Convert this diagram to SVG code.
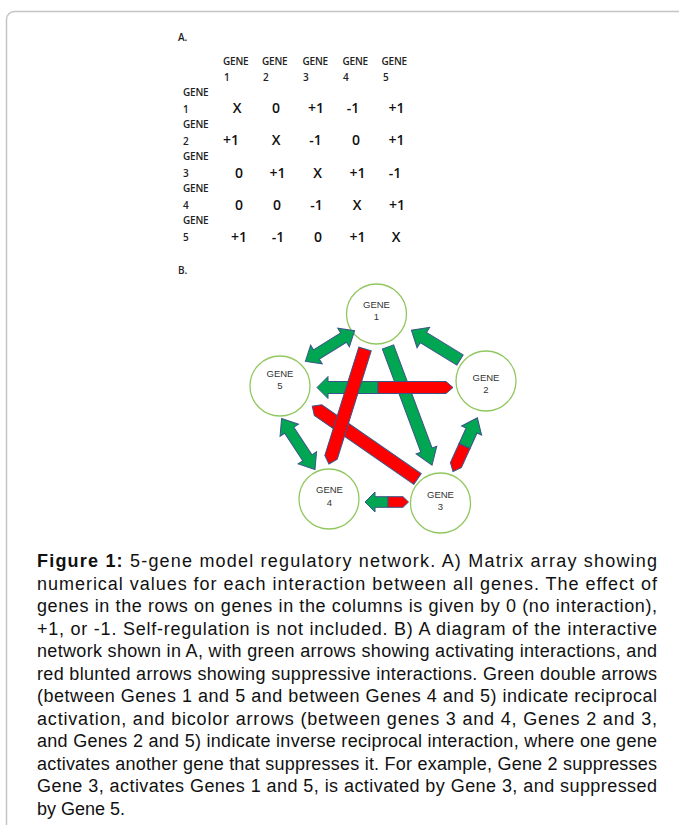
<svg xmlns="http://www.w3.org/2000/svg" width="679" height="825" viewBox="0 0 679 825">
<style>
.frame{fill:#fff;stroke:#c4c4c4;stroke-width:1.5}
.hd{font-family:"Open Sans","Liberation Sans",sans-serif;font-size:10px;font-weight:600;fill:#222;letter-spacing:-0.2px}
.v{font-family:"Open Sans","Liberation Sans",sans-serif;font-size:14px;font-weight:600;fill:#111;text-anchor:middle}
.nd{fill:#fff;stroke:#92C760;stroke-width:1.3}
.nt{font-family:"Liberation Sans",Arial,sans-serif;font-size:9.5px;fill:#333;text-anchor:middle}
.g{fill:#00A651;stroke:#3A5488;stroke-width:1}
.r{fill:#FF0000;stroke:#3A5488;stroke-width:1}
.cap{font-family:"Liberation Sans",Arial,sans-serif;font-size:18px;fill:#111}
</style>
<rect class="frame" x="6.5" y="11.5" width="720" height="900" rx="8"/>
<g id="matrix">
<text class="hd" x="178" y="41">A.</text>
<text class="hd" x="223" y="65">GENE</text><text class="hd" x="262" y="65">GENE</text><text class="hd" x="302.5" y="65">GENE</text><text class="hd" x="342.5" y="65">GENE</text><text class="hd" x="381.5" y="65">GENE</text>
<text class="hd" x="224" y="81">1</text><text class="hd" x="263" y="81">2</text><text class="hd" x="303" y="81">3</text><text class="hd" x="343" y="81">4</text><text class="hd" x="383" y="81">5</text>
<text class="hd" x="183" y="96">GENE</text><text class="hd" x="183" y="113">1</text>
<text class="hd" x="183" y="128">GENE</text><text class="hd" x="183" y="145">2</text>
<text class="hd" x="183" y="160">GENE</text><text class="hd" x="183" y="177">3</text>
<text class="hd" x="183" y="192">GENE</text><text class="hd" x="183" y="209">4</text>
<text class="hd" x="183" y="224">GENE</text><text class="hd" x="183" y="241">5</text>
<text class="v" x="237" y="113">X</text><text class="v" x="276" y="113">0</text><text class="v" x="316" y="113">+1</text><text class="v" x="353" y="113">-1</text><text class="v" x="396.5" y="113">+1</text>
<text class="v" x="231" y="145">+1</text><text class="v" x="276" y="145">X</text><text class="v" x="315.5" y="145">-1</text><text class="v" x="356" y="145">0</text><text class="v" x="396.5" y="145">+1</text>
<text class="v" x="239" y="178">0</text><text class="v" x="277.5" y="178">+1</text><text class="v" x="317.5" y="178">X</text><text class="v" x="357.5" y="178">+1</text><text class="v" x="395" y="178">-1</text>
<text class="v" x="239" y="209.5">0</text><text class="v" x="277" y="209.5">0</text><text class="v" x="316.5" y="209.5">-1</text><text class="v" x="357" y="209.5">X</text><text class="v" x="397" y="209.5">+1</text>
<text class="v" x="239" y="241.5">+1</text><text class="v" x="278" y="241.5">-1</text><text class="v" x="318" y="241.5">0</text><text class="v" x="357.5" y="241.5">+1</text><text class="v" x="396" y="241.5">X</text>
<text class="hd" x="178" y="274">B.</text>
</g>
<g id="gene1"><circle class="nd" cx="376.5" cy="314" r="30"/><text class="nt" x="376.5" y="308">GENE</text><text class="nt" x="376.5" y="320">1</text></g>
<g id="gene5"><circle class="nd" cx="280" cy="386" r="30"/><text class="nt" x="280" y="377">GENE</text><text class="nt" x="280" y="389">5</text></g>
<g id="gene2"><circle class="nd" cx="486" cy="381" r="30"/><text class="nt" x="486" y="381">GENE</text><text class="nt" x="486" y="393">2</text></g>
<g id="gene4"><circle class="nd" cx="329" cy="499" r="30"/><text class="nt" x="329.5" y="493">GENE</text><text class="nt" x="329.5" y="506">4</text></g>
<g id="gene3"><circle class="nd" cx="440.5" cy="503" r="30"/><text class="nt" x="440.5" y="497.5">GENE</text><text class="nt" x="440.5" y="510">3</text></g>
<g id="connectors">
<polygon class="g" transform="translate(305.4,361.4) rotate(-32)" points="0,0 13,-11 13,-5.5 45,-5.5 45,-11 58,0 45,11 45,5.5 13,5.5 13,11"/>
<polygon class="g" transform="translate(460,360) rotate(211.5)" points="0,-6 43,-6 43,-12 57,0 43,12 43,6 0,6"/>
<polygon class="g" transform="translate(388,347) rotate(69.55)" points="0,-6 110,-6 110,-11 126,0 110,11 110,6 0,6"/>
<polygon class="g" points="317,387.5 328,376.5 328,381.5 378,381.5 378,393.5 328,393.5 328,398.5"/>
<polygon class="r" points="378,381.5 446,381.5 453,387.5 446,393.5 378,393.5"/>
<polygon class="r" transform="translate(417.5,479) rotate(214.7)" points="0,-6.5 121,-6.5 128,0 121,6.5 0,6.5"/>
<polygon class="r" transform="translate(365,349) rotate(107.4)" points="0,-6.5 113.5,-6.5 120.5,0 113.5,6.5 0,6.5"/>
<polygon class="g" transform="translate(281.6,418.5) rotate(56.8)" points="0,0 14,-11 14,-5.5 47,-5.5 47,-11 61,0 47,11 47,5.5 14,5.5 14,11"/>
<polygon class="r" transform="translate(453,471.5) rotate(-65.6)" points="0,0 7,-6 28,-6 28,6 7,6"/>
<polygon class="g" transform="translate(453,471.5) rotate(-65.6)" points="28,-6 45,-6 45,-11 59,0 45,11 45,6 28,6"/>
<polygon class="g" points="365,502 375,492 375,496.7 388,496.7 388,507.3 375,507.3 375,512"/>
<polygon class="r" points="388,496.7 403,496.7 408.5,502 403,507.3 388,507.3"/>
</g>
<g id="caption">
<text class="cap" x="37" y="567" textLength="620" lengthAdjust="spacing"><tspan font-weight="bold">Figure 1:</tspan> 5-gene model regulatory network. A) Matrix array showing</text>
<text class="cap" x="37" y="589.5" textLength="620" lengthAdjust="spacing">numerical values for each interaction between all genes. The effect of</text>
<text class="cap" x="37" y="612" textLength="620" lengthAdjust="spacing">genes in the rows on genes in the columns is given by 0 (no interaction),</text>
<text class="cap" x="37" y="634.5" textLength="620" lengthAdjust="spacing">+1, or -1. Self-regulation is not included. B) A diagram of the interactive</text>
<text class="cap" x="37" y="657" textLength="620" lengthAdjust="spacing">network shown in A, with green arrows showing activating interactions, and</text>
<text class="cap" x="37" y="679.5" textLength="620" lengthAdjust="spacing">red blunted arrows showing suppressive interactions. Green double arrows</text>
<text class="cap" x="37" y="702" textLength="620" lengthAdjust="spacing">(between Genes 1 and 5 and between Genes 4 and 5) indicate reciprocal</text>
<text class="cap" x="37" y="724.5" textLength="620" lengthAdjust="spacing">activation, and bicolor arrows (between genes 3 and 4, Genes 2 and 3,</text>
<text class="cap" x="37" y="747" textLength="620" lengthAdjust="spacing">and Genes 2 and 5) indicate inverse reciprocal interaction, where one gene</text>
<text class="cap" x="37" y="769.5" textLength="620" lengthAdjust="spacing">activates another gene that suppresses it. For example, Gene 2 suppresses</text>
<text class="cap" x="37" y="792" textLength="620" lengthAdjust="spacing">Gene 3, activates Genes 1 and 5, is activated by Gene 3, and suppressed</text>
<text class="cap" x="37" y="814.5">by Gene 5.</text>
</g>
</svg>
